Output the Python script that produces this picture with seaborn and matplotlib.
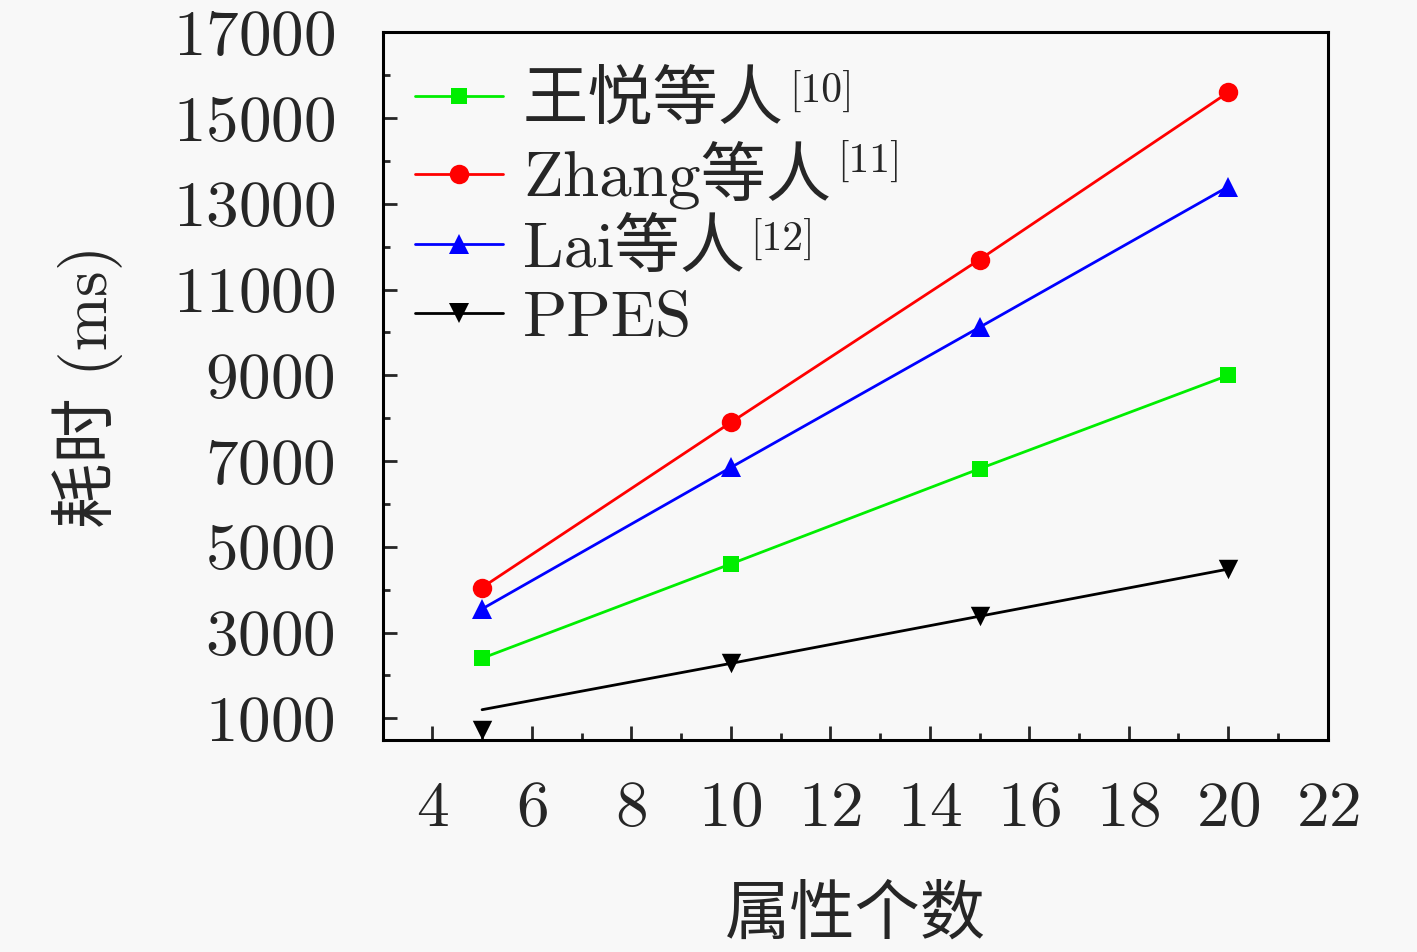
import matplotlib
matplotlib.use("Agg")
import matplotlib.pyplot as plt
from matplotlib.lines import Line2D
import seaborn as sns
import pandas as pd

# data
attrs = [5, 10, 15, 20]
wang = [2400, 4600, 6820, 9000]
zhang = [4050, 7900, 11700, 15600]
lai = [3550, 6850, 10120, 13400]
ppes_line = [1200, 2280, 3380, 4480]
ppes_pts = [730, 2280, 3380, 4480]

names = ["王悦等人", "Zhang等人", "Lai等人", "PPES"]
refs = ["[10]", "[11]", "[12]", ""]
colors = ["#00ee00", "#ff0000", "#0000ff", "#000000"]
markers = ["s", "o", "^", "v"]
msizes = [12, 14, 14, 14]

sns.set_style("ticks")
plt.rcParams["font.family"] = ["cmr10", "Noto Sans CJK SC"]
plt.rcParams["mathtext.fontset"] = "cm"
plt.rcParams["axes.formatter.use_mathtext"] = True
bg = "#f8f8f8"

fig = plt.figure(figsize=(14.17, 9.52), dpi=100, facecolor=bg)
ax = fig.add_axes([0.270, 0.223, 0.667, 0.743], facecolor=bg)

series = [wang, zhang, lai]
for vals, c, m, ms in zip(series, colors[:3], markers[:3], msizes[:3]):
    df = pd.DataFrame({"x": attrs, "y": vals})
    sns.lineplot(data=df, x="x", y="y", ax=ax, color=c, marker=m, markersize=ms,
                 markeredgewidth=0, linewidth=2)

df_line = pd.DataFrame({"x": attrs, "y": ppes_line})
sns.lineplot(data=df_line, x="x", y="y", ax=ax, color=colors[3], linewidth=2)
df_pts = pd.DataFrame({"x": attrs, "y": ppes_pts})
sns.scatterplot(data=df_pts, x="x", y="y", ax=ax, color=colors[3], marker="v",
                s=msizes[3] ** 2, linewidth=0, zorder=3)

ax.set_xlim(3, 22)
ax.set_ylim(500, 17000)
ax.set_xticks(range(4, 23, 2))
ax.set_xticks(range(3, 23, 2), minor=True)
ax.set_yticks(range(1000, 17001, 2000))
ax.set_yticks(range(2000, 17000, 2000), minor=True)

ax.tick_params(which="both", direction="in", top=False, right=False, width=2)
ax.tick_params(which="major", length=10, labelsize=47)
ax.tick_params(axis="x", which="major", pad=30)
ax.tick_params(axis="y", which="major", pad=34)
ax.tick_params(which="minor", length=5)
for s in ax.spines.values():
    s.set_linewidth(2.2)
    s.set_color("black")

ax.set_xlabel("属性个数", fontsize=47, labelpad=34)
ax.set_ylabel("耗时 (ms)", fontsize=47, labelpad=36)

handles = [Line2D([0], [0], color=c, marker=m, markersize=ms, markeredgewidth=0,
                  linewidth=2) for c, m, ms in zip(colors, markers, msizes)]
leg = ax.legend(handles, names, loc="upper left", bbox_to_anchor=(0.0, 0.99),
                frameon=False, fontsize=47, handlelength=1.35, handletextpad=0.3,
                labelspacing=0.15, borderaxespad=0.1)

# superscript references next to the legend labels
fig.canvas.draw()
renderer = fig.canvas.get_renderer()
W, H = fig.bbox.width, fig.bbox.height
for t, r in zip(leg.get_texts(), refs):
    if not r:
        continue
    bb = t.get_window_extent(renderer)
    fig.text(bb.x1 / W + 0.004, (bb.y1 + 2) / H, r, fontsize=30,
             ha="left", va="top", family="cmr10")

fig.savefig("out.png", dpi=100, facecolor=bg)
